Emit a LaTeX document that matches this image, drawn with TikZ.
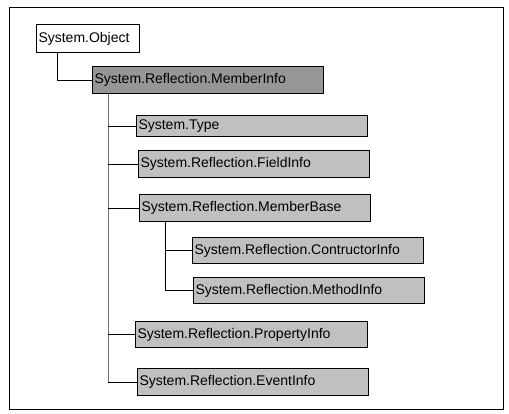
\documentclass[tikz,border=0pt]{standalone}
\usepackage{fontspec}
\setmainfont{Liberation Sans}
\usetikzlibrary{positioning}

\tikzset{
  cls/.style={draw, line width=1pt, anchor=north west, inner sep=2pt, align=left,
    font=\fontsize{14}{16}\selectfont},
  lite/.style={cls, fill=litegray},
  dark/.style={cls, fill=darkgray},
  link/.style={line width=1pt}
}
\definecolor{litegray}{RGB}{192,192,192}
\definecolor{darkgray}{RGB}{150,150,150}
\definecolor{trunkgray}{RGB}{115,115,115}

\begin{document}
\begin{tikzpicture}[x=1pt,y=-1pt]
%frame
\useasboundingbox (0,0) rectangle (509,413);
\draw[line width=1pt] (9,7) rectangle (503,409);

%boxes
\node[cls, fill=white, text width=99pt, minimum height=28pt] (obj) at (36,24) {System.Object};
\node[dark, text width=227pt, minimum height=27pt] (mi) at (92,66) {System.Reflection.MemberInfo};
\node[lite, text width=227pt, minimum height=21pt] (ty) at (136,115) {System.Type};
\node[lite, text width=227pt, minimum height=27pt] (fi) at (138,150) {System.Reflection.FieldInfo};
\node[lite, text width=227pt, minimum height=27pt] (mb) at (139,194) {System.Reflection.MemberBase};
\node[lite, text width=227pt, minimum height=26pt] (ci) at (192,237) {System.Reflection.ContructorInfo};
\node[lite, text width=227pt, minimum height=26pt] (me) at (193,277) {System.Reflection.MethodInfo};
\node[lite, text width=228pt, minimum height=26pt] (pi) at (135,321) {System.Reflection.PropertyInfo};
\node[lite, text width=227pt, minimum height=27pt] (ei) at (137,368) {System.Reflection.EventInfo};

%lines
\draw[link] ([xshift=21pt]obj.south west) |- (mi.west);
\draw[link, trunkgray] ([xshift=16pt]mi.south west) -- ([xshift=16pt]mi.south west |- ei.west);
\draw[link] ([xshift=16pt]mi.south west |- ei.west) -- (ei.west);
\foreach \n in {ty,fi,mb,pi}
  \draw[link] ([xshift=16pt]mi.south west |- \n.west) -- (\n.west);
%sub tree
\draw[link] ([xshift=26pt]mb.south west) |- (ci.west);
\draw[link] ([xshift=26pt]mb.south west) |- (me.west);
\end{tikzpicture}
\end{document}
